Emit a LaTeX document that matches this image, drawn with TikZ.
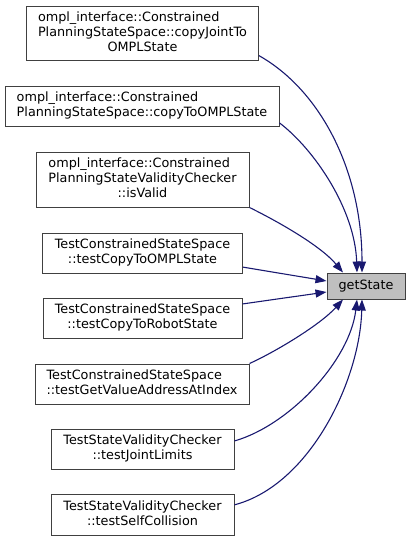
\documentclass[tikz,border=0pt]{standalone}
\usepackage{fontspec}
\setmainfont{DejaVu Sans}
\usepackage{xcolor}
\definecolor{edgecol}{RGB}{25,25,112}
\definecolor{bordercol}{RGB}{64,64,64}
\definecolor{targetcol}{RGB}{191,191,191}
\usetikzlibrary{arrows.meta}

% caller label: first lines flush left, last line centred
\newcommand{\calllbl}[2]{\begin{tabular}{@{}l@{}}#1\\\multicolumn{1}{@{}c@{}}{#2}\end{tabular}}

\begin{document}
\begin{tikzpicture}[
  x=1pt, y=-1pt,
  boxc/.style={rectangle, draw=bordercol, fill=white, line width=1pt,
               inner sep=0pt, align=center, font=\fontsize{12.8}{15}\selectfont},
  boxt/.style={rectangle, draw=bordercol, fill=targetcol, line width=1pt,
               inner sep=0pt, minimum width=78pt, minimum height=26pt,
               font=\fontsize{12.8}{15}\selectfont},
  arr/.style={-{Triangle[length=11pt,width=8pt]}, line width=1.1pt, color=edgecol}
]
\useasboundingbox (0,0) rectangle (411,541);

%% callers
\node[boxc, minimum width=232pt, minimum height=54pt] (c1) at (142.5,33)
  {\calllbl{ompl\_interface::Constrained\\PlanningStateSpace::copyJointTo}{OMPLState}};
\node[boxc, minimum width=274pt, minimum height=40pt] (c2) at (142,106)
  {\calllbl{ompl\_interface::Constrained}{PlanningStateSpace::copyToOMPLState}};
\node[boxc, minimum width=213pt, minimum height=55pt] (c3) at (142.5,179.5)
  {\calllbl{ompl\_interface::Constrained\\PlanningStateValidityChecker}{::isValid}};
\node[boxc, minimum width=200pt, minimum height=40pt] (c4) at (142.5,253)
  {\calllbl{TestConstrainedStateSpace}{::testCopyToOMPLState}};
\node[boxc, minimum width=199pt, minimum height=40pt] (c5) at (142.5,318)
  {\calllbl{TestConstrainedStateSpace}{::testCopyToRobotState}};
\node[boxc, minimum width=214pt, minimum height=40pt] (c6) at (142,384)
  {\calllbl{TestConstrainedStateSpace}{::testGetValueAddressAtIndex}};
\node[boxc, minimum width=183pt, minimum height=40pt] (c7) at (142.5,449)
  {\calllbl{TestStateValidityChecker}{::testJointLimits}};
\node[boxc, minimum width=183pt, minimum height=41pt] (c8) at (142.5,514.5)
  {\calllbl{TestStateValidityChecker}{::testSelfCollision}};

%% called function
\node[boxt] (gs) at (366,286) {getState};

\draw[arr] (c1.-11) .. controls (320,90) and (362,170) .. ([xshift=-4pt]gs.north);
\draw[arr] (c2.-7.5) .. controls (315,150) and (355,210) .. ([xshift=-9pt]gs.north);
\draw[arr] (c3.south east) .. controls (275,220) and (320,245) .. ([xshift=-23pt]gs.north);
\draw[arr] (c4.-8.5) -- ([yshift=5pt]gs.west);
\draw[arr] (c5.8) -- ([yshift=-6pt]gs.west);
\draw[arr] (c6.north east) .. controls (275,352) and (320,325) .. ([xshift=-23pt]gs.south);
\draw[arr] (c7.5.6) .. controls (290,425) and (350,360) .. ([xshift=-9pt]gs.south);
\draw[arr] (c8.6) .. controls (310,485) and (360,380) .. ([xshift=-4pt]gs.south);
\end{tikzpicture}
\end{document}
